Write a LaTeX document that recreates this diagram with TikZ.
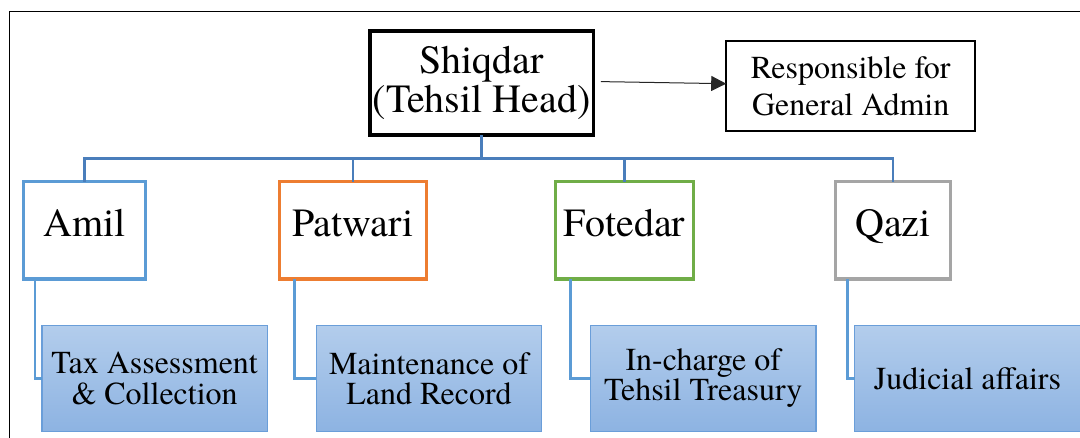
\documentclass[tikz,border=0pt]{standalone}
\usepackage{fontspec}
\setmainfont{TeX Gyre Termes}
\usetikzlibrary{arrows.meta}
\definecolor{amilc}{HTML}{5B9BD5}
\definecolor{patwaric}{HTML}{ED7D31}
\definecolor{fotedarc}{HTML}{70AD47}
\definecolor{qazic}{HTML}{A5A5A5}
\definecolor{treeblue}{HTML}{4A7EBB}
\definecolor{childblue}{HTML}{5B9BD5}
\definecolor{dutyborder}{HTML}{6A9ED9}
\definecolor{dutytop}{HTML}{B3CDEC}
\definecolor{dutybot}{HTML}{8DB3E2}
\begin{document}
\begin{tikzpicture}[x=1pt,y=-1pt,
  headbox/.style={draw=black, line width=3.5pt, minimum width=223.5pt, minimum height=104pt,
    inner sep=0pt, outer sep=0pt, align=center, font=\fontsize{40}{39}\selectfont},
  notebox/.style={draw=black, line width=2.2pt, minimum width=249pt, minimum height=89.5pt,
    inner sep=0pt, outer sep=0pt, align=center, font=\fontsize{32}{37}\selectfont},
  officer/.style={line width=3.2pt, minimum height=97.4pt, inner sep=0pt, outer sep=0pt,
    font=\fontsize{40}{48}\selectfont, text height=27pt, text depth=14pt},
  duty/.style={draw=dutyborder, line width=1.2pt, top color=dutytop, bottom color=dutybot,
    minimum width=225.5pt, minimum height=105.8pt, inner sep=0pt, outer sep=0pt,
    align=center, font=\fontsize{32}{30.3}\selectfont},
  treeline/.style={draw=treeblue, line width=2.6pt},
  childline/.style={draw=childblue, line width=2.6pt},
  frameline/.style={draw=black, line width=1.5pt}
]
\useasboundingbox (0,0) rectangle (1080,437);
\fill[white] (0,0) rectangle (1080,437);
% outer frame
\draw[frameline] (9.6,440) -- (9.6,11.4) -- (1083,11.4);

% nodes
\node[headbox] (shiq) at (481.5,83) {Shiqdar\\(Tehsil Head)};
\node[notebox] (resp) at (850.7,86.1) {Responsible for\\General Admin};

\node[officer, draw=amilc, minimum width=122.5pt] (amil) at (84.5,230.3) {Amil};
\node[officer, draw=patwaric, minimum width=147pt] (patwari) at (353,230.3) {Patwari};
\node[officer, draw=fotedarc, minimum width=138pt] (fotedar) at (624.4,230.3) {Fotedar};
\node[officer, draw=qazic, minimum width=115pt] (qazi) at (892.9,230.3) {Qazi};

\node[duty] (tax) at (154.65,378.4) {Tax Assessment\\\& Collection};
\node[duty] (land) at (429,378.4) {Maintenance of\\Land Record};
\node[duty] (treas) at (703.25,378.4) {In-charge of\\Tehsil Treasury};
\node[duty] (jud) at (967.5,378.4) {Judicial affairs};

% tree connectors
\coordinate (bar) at (481.5,158.4);
\draw[treeline] (shiq.south) -- (bar);
\draw[treeline] (bar) -| (amil.north);
\draw[treeline] (bar) -| (patwari.north);
\draw[treeline] (bar) -| (fotedar.north);
\draw[treeline] (bar) -| (qazi.north);

% child connectors
\draw[childline] ([xshift=11.7pt]amil.south west) |- (tax.west);
\draw[childline] ([xshift=15pt]patwari.south west) |- (land.west);
\draw[childline] ([xshift=15pt]fotedar.south west) |- (treas.west);
\draw[childline] ([xshift=12.3pt]qazi.south west) |- (jud.west);

% arrow
\draw[black!85, line width=1pt, -{Triangle[length=15pt,width=15pt]}]
  ([xshift=7.7pt,yshift=1.4pt]shiq.east) -- ([yshift=2.4pt]resp.west);
\end{tikzpicture}
\end{document}
